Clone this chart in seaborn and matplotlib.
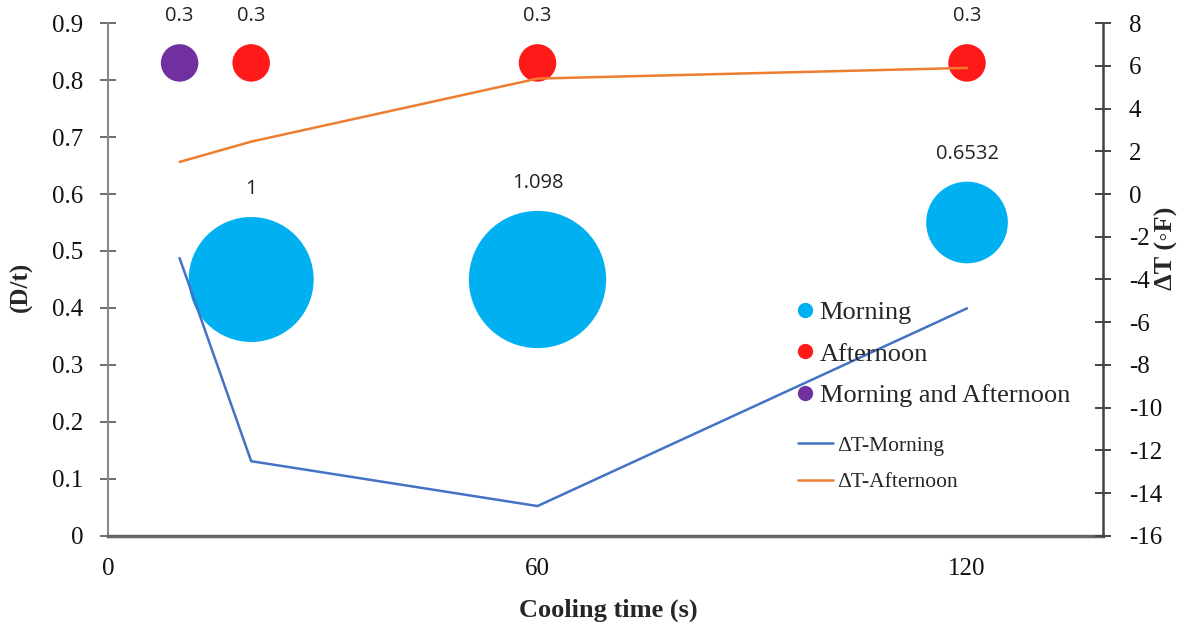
import pandas as pd
import seaborn as sns
import matplotlib.pyplot as plt
from matplotlib.lines import Line2D

# Bubble data (D/t vs cooling time, bubble value shown as label)
bubble_time = [20, 60, 120, 20, 60, 120, 10]
bubble_dt = [0.45, 0.45, 0.55, 0.83, 0.83, 0.83, 0.83]
bubble_value = [1, 1.098, 0.6532, 0.3, 0.3, 0.3, 0.3]
bubble_group = ["Morning", "Morning", "Morning", "Afternoon", "Afternoon", "Afternoon",
                "Morning and Afternoon"]
bubble_label = ["1", "1.098", "0.6532", "0.3", "0.3", "0.3", "0.3"]

# Temperature difference lines
line_time = [10, 20, 60, 120]
dT_morning = [-3.0, -12.5, -14.6, -5.35]
dT_afternoon = [1.5, 2.45, 5.4, 5.9]

colors = {"Morning": "#00B0F0", "Afternoon": "#FF1A1A", "Morning and Afternoon": "#7030A0"}
line_colors = {"ΔT-Morning": "#4472C4", "ΔT-Afternoon": "#ED7D31"}

sns.set_style("white")
plt.rcParams["font.family"] = ["Liberation Serif", "DejaVu Serif"]
plt.rcParams["axes.unicode_minus"] = False

DPI = 100
PX_PER_UNIT = 125  # bubble diameter in px for value 1
fig = plt.figure(figsize=(11.83, 6.22), dpi=DPI)
ax = fig.add_axes([0.0913, 0.1383, 0.8411, 0.8247])

df = pd.DataFrame({"time": bubble_time, "dt": bubble_dt, "value": bubble_value,
                   "group": bubble_group, "label": bubble_label})
size_map = {v: (v * PX_PER_UNIT * 72 / DPI) ** 2 for v in df["value"].unique()}
sns.scatterplot(data=df, x="time", y="dt", hue="group", palette=colors, size="value",
                sizes=size_map, legend=False, linewidth=0, alpha=1, ax=ax, zorder=3)

for _, r in df.iterrows():
    off = (r["value"] * PX_PER_UNIT / 2 + 28) * 72 / DPI
    ax.annotate(r["label"], (r["time"], r["dt"]), xytext=(0, off), textcoords="offset points",
                ha="center", va="center", fontsize=14.5, family=["Open Sans", "DejaVu Sans"],
                color="#222222")

ax.set_xlim(0, 139)
ax.set_ylim(0, 0.9)
ax.set_xticks([0, 60, 120])
ax.set_yticks([i / 10 for i in range(10)])
ax.set_yticklabels(["0"] + [f"{i / 10:.1f}" for i in range(1, 10)])
ax.set_xlabel("Cooling time (s)", fontsize=19, fontweight="bold")
ax.set_ylabel("(D/t)", fontsize=18, fontweight="bold")
ax.xaxis.set_label_coords(0.5025, -0.122)
ax.yaxis.set_label_coords(-0.0754, 0.485)
ax.tick_params(axis="y", labelsize=18, direction="inout", length=11.5, width=1.2,
               colors="#555555", labelcolor="#111111", pad=12)
ax.tick_params(axis="x", labelsize=18, direction="inout", length=8, width=1.2,
               colors="#555555", labelcolor="#111111", pad=12)
for s in ["top", "right"]:
    ax.spines[s].set_visible(False)
ax.spines["left"].set_color("#888888")
ax.spines["left"].set_linewidth(1.5)
ax.spines["bottom"].set_color("#666666")
ax.spines["bottom"].set_linewidth(2.5)

ax2 = ax.twinx()
ldf = pd.DataFrame({"time": line_time * 2,
                    "dT": dT_morning + dT_afternoon,
                    "series": ["ΔT-Morning"] * 4 + ["ΔT-Afternoon"] * 4})
sns.lineplot(data=ldf, x="time", y="dT", hue="series", palette=line_colors,
             linewidth=1.8, legend=False, ax=ax2)
ax2.set_ylim(-16, 8)
ax2.set_yticks(range(-16, 9, 2))
ax2.set_ylabel("ΔT (◦F)", fontsize=19, fontweight="bold")
ax2.yaxis.set_label_coords(1.052, 0.561)
ax2.tick_params(axis="y", labelsize=18, direction="inout", length=11, width=1.4,
                colors="#444444", labelcolor="#111111", pad=13)
for s in ["top", "left", "bottom"]:
    ax2.spines[s].set_visible(False)
ax2.spines["right"].set_color("#444444")
ax2.spines["right"].set_linewidth(1.8)

# Legends
marker_handles = [Line2D([], [], marker="o", linestyle="", markersize=11,
                         markerfacecolor=colors[k], markeredgewidth=0, label=k)
                  for k in colors]
leg1 = ax2.legend(handles=marker_handles, loc="upper left", bbox_to_anchor=(0.682, 0.479),
                  frameon=False, fontsize=19, handlelength=0.6, handletextpad=0.25,
                  labelspacing=0.68, borderaxespad=0)
ax2.add_artist(leg1)
line_handles = [Line2D([], [], color=c, linewidth=1.8, label=k) for k, c in line_colors.items()]
ax2.legend(handles=line_handles, loc="upper left", bbox_to_anchor=(0.685, 0.212),
           frameon=False, fontsize=15.5, handlelength=1.6, handletextpad=0.2,
           labelspacing=0.75, borderaxespad=0)

fig.savefig("out.png", dpi=DPI)
